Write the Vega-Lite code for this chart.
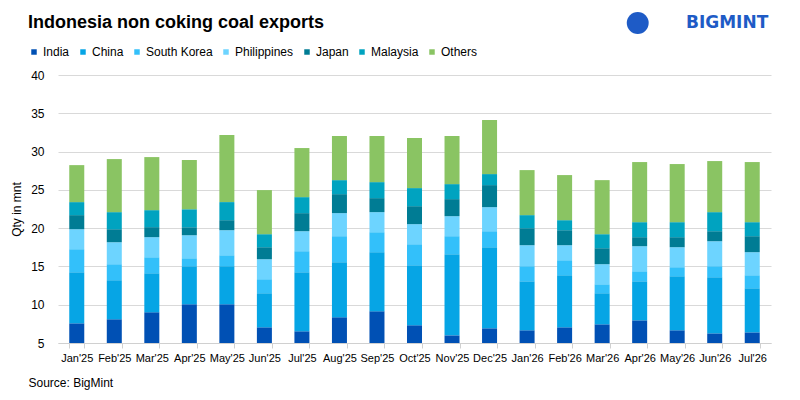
{
"$schema": "https://vega.github.io/schema/vega-lite/v6.json",
"width": 713,
"height": 268,
"autosize": {"type": "none"},
"padding": {"left": 58, "top": 75, "right": 29, "bottom": 57},
"background": "white",
"config": {"font": "Liberation Sans", "view": {"stroke": null}},
"title": {"text": "Indonesia non coking coal exports", "anchor": "start", "frame": "group", "dx": -30, "dy": 30, "offset": 10, "fontSize": 18, "fontWeight": "bold", "color": "#000000"},
"resolve": {"axis": {"x": "independent", "y": "independent"}},
"datasets": {
"exports": [
{"month":"Jan'25","country":"India","qty":7.57},{"month":"Jan'25","country":"China","qty":6.67},{"month":"Jan'25","country":"South Korea","qty":3.01},{"month":"Jan'25","country":"Philippines","qty":2.61},{"month":"Jan'25","country":"Japan","qty":1.84},{"month":"Jan'25","country":"Malaysia","qty":1.70},{"month":"Jan'25","country":"Others","qty":4.83},
{"month":"Feb'25","country":"India","qty":8.10},{"month":"Feb'25","country":"China","qty":5.10},{"month":"Feb'25","country":"South Korea","qty":2.09},{"month":"Feb'25","country":"Philippines","qty":2.87},{"month":"Feb'25","country":"Japan","qty":1.70},{"month":"Feb'25","country":"Malaysia","qty":2.23},{"month":"Feb'25","country":"Others","qty":6.93},
{"month":"Mar'25","country":"India","qty":9.01},{"month":"Mar'25","country":"China","qty":5.10},{"month":"Mar'25","country":"South Korea","qty":2.09},{"month":"Mar'25","country":"Philippines","qty":2.62},{"month":"Mar'25","country":"Japan","qty":1.31},{"month":"Mar'25","country":"Malaysia","qty":2.22},{"month":"Mar'25","country":"Others","qty":6.93},
{"month":"Apr'25","country":"India","qty":10.06},{"month":"Apr'25","country":"China","qty":4.97},{"month":"Apr'25","country":"South Korea","qty":1.04},{"month":"Apr'25","country":"Philippines","qty":3.01},{"month":"Apr'25","country":"Japan","qty":1.05},{"month":"Apr'25","country":"Malaysia","qty":2.35},{"month":"Apr'25","country":"Others","qty":6.41},
{"month":"May'25","country":"India","qty":10.06},{"month":"May'25","country":"China","qty":4.97},{"month":"May'25","country":"South Korea","qty":1.43},{"month":"May'25","country":"Philippines","qty":3.27},{"month":"May'25","country":"Japan","qty":1.31},{"month":"May'25","country":"Malaysia","qty":2.36},{"month":"May'25","country":"Others","qty":8.76},
{"month":"Jun'25","country":"India","qty":7.05},{"month":"Jun'25","country":"China","qty":4.45},{"month":"Jun'25","country":"South Korea","qty":1.83},{"month":"Jun'25","country":"Philippines","qty":2.61},{"month":"Jun'25","country":"Japan","qty":1.57},{"month":"Jun'25","country":"Malaysia","qty":1.70},{"month":"Jun'25","country":"Others","qty":5.76},
{"month":"Jul'25","country":"India","qty":6.53},{"month":"Jul'25","country":"China","qty":7.71},{"month":"Jul'25","country":"South Korea","qty":2.75},{"month":"Jul'25","country":"Philippines","qty":2.61},{"month":"Jul'25","country":"Japan","qty":2.36},{"month":"Jul'25","country":"Malaysia","qty":2.09},{"month":"Jul'25","country":"Others","qty":6.41},
{"month":"Aug'25","country":"India","qty":8.36},{"month":"Aug'25","country":"China","qty":7.19},{"month":"Aug'25","country":"South Korea","qty":3.40},{"month":"Aug'25","country":"Philippines","qty":3.01},{"month":"Aug'25","country":"Japan","qty":2.48},{"month":"Aug'25","country":"Malaysia","qty":1.83},{"month":"Aug'25","country":"Others","qty":5.76},
{"month":"Sep'25","country":"India","qty":9.14},{"month":"Sep'25","country":"China","qty":7.72},{"month":"Sep'25","country":"South Korea","qty":2.61},{"month":"Sep'25","country":"Philippines","qty":2.62},{"month":"Sep'25","country":"Japan","qty":1.83},{"month":"Sep'25","country":"Malaysia","qty":2.09},{"month":"Sep'25","country":"Others","qty":6.02},
{"month":"Oct'25","country":"India","qty":7.31},{"month":"Oct'25","country":"China","qty":7.85},{"month":"Oct'25","country":"South Korea","qty":2.74},{"month":"Oct'25","country":"Philippines","qty":2.62},{"month":"Oct'25","country":"Japan","qty":2.35},{"month":"Oct'25","country":"Malaysia","qty":2.36},{"month":"Oct'25","country":"Others","qty":6.54},
{"month":"Nov'25","country":"India","qty":6.00},{"month":"Nov'25","country":"China","qty":10.60},{"month":"Nov'25","country":"South Korea","qty":2.35},{"month":"Nov'25","country":"Philippines","qty":2.61},{"month":"Nov'25","country":"Japan","qty":2.23},{"month":"Nov'25","country":"Malaysia","qty":1.96},{"month":"Nov'25","country":"Others","qty":6.28},
{"month":"Dec'25","country":"India","qty":6.92},{"month":"Dec'25","country":"China","qty":10.59},{"month":"Dec'25","country":"South Korea","qty":2.09},{"month":"Dec'25","country":"Philippines","qty":3.14},{"month":"Dec'25","country":"Japan","qty":2.88},{"month":"Dec'25","country":"Malaysia","qty":1.44},{"month":"Dec'25","country":"Others","qty":7.06},
{"month":"Jan'26","country":"India","qty":6.66},{"month":"Jan'26","country":"China","qty":6.40},{"month":"Jan'26","country":"South Korea","qty":1.97},{"month":"Jan'26","country":"Philippines","qty":2.74},{"month":"Jan'26","country":"Japan","qty":2.22},{"month":"Jan'26","country":"Malaysia","qty":1.71},{"month":"Jan'26","country":"Others","qty":5.88},
{"month":"Feb'26","country":"India","qty":7.05},{"month":"Feb'26","country":"China","qty":6.80},{"month":"Feb'26","country":"South Korea","qty":1.96},{"month":"Feb'26","country":"Philippines","qty":1.96},{"month":"Feb'26","country":"Japan","qty":1.96},{"month":"Feb'26","country":"Malaysia","qty":1.31},{"month":"Feb'26","country":"Others","qty":5.89},
{"month":"Mar'26","country":"India","qty":7.44},{"month":"Mar'26","country":"China","qty":4.06},{"month":"Mar'26","country":"South Korea","qty":1.17},{"month":"Mar'26","country":"Philippines","qty":2.62},{"month":"Mar'26","country":"Japan","qty":2.09},{"month":"Mar'26","country":"Malaysia","qty":1.83},{"month":"Mar'26","country":"Others","qty":7.06},
{"month":"Apr'26","country":"India","qty":7.96},{"month":"Apr'26","country":"China","qty":5.10},{"month":"Apr'26","country":"South Korea","qty":1.31},{"month":"Apr'26","country":"Philippines","qty":3.27},{"month":"Apr'26","country":"Japan","qty":1.18},{"month":"Apr'26","country":"Malaysia","qty":1.96},{"month":"Apr'26","country":"Others","qty":7.85},
{"month":"May'26","country":"India","qty":6.66},{"month":"May'26","country":"China","qty":7.06},{"month":"May'26","country":"South Korea","qty":1.18},{"month":"May'26","country":"Philippines","qty":2.61},{"month":"May'26","country":"Japan","qty":1.31},{"month":"May'26","country":"Malaysia","qty":1.96},{"month":"May'26","country":"Others","qty":7.59},
{"month":"Jun'26","country":"India","qty":6.26},{"month":"Jun'26","country":"China","qty":7.33},{"month":"Jun'26","country":"South Korea","qty":1.44},{"month":"Jun'26","country":"Philippines","qty":3.26},{"month":"Jun'26","country":"Japan","qty":1.31},{"month":"Jun'26","country":"Malaysia","qty":2.49},{"month":"Jun'26","country":"Others","qty":6.67},
{"month":"Jul'26","country":"India","qty":6.39},{"month":"Jul'26","country":"China","qty":5.76},{"month":"Jul'26","country":"South Korea","qty":1.70},{"month":"Jul'26","country":"Philippines","qty":3.01},{"month":"Jul'26","country":"Japan","qty":2.09},{"month":"Jul'26","country":"Malaysia","qty":1.83},{"month":"Jul'26","country":"Others","qty":7.85}
],
"brand": [{"name": "BIGMINT"}]
},
"layer": [
{
"data": {"name": "exports"},
"transform": [{"calculate": "indexof(['India','China','South Korea','Philippines','Japan','Malaysia','Others'], datum.country)", "as": "stackRank"}],
"mark": {"type": "bar", "clip": true},
"encoding": {
"x": {"field": "month", "type": "nominal", "sort": null,
"scale": {"paddingInner": 0.6, "paddingOuter": 0.3},
"axis": {"labelAngle": 0, "labelFontSize": 11, "labelColor": "#000000", "labelPadding": 4, "tickBand": "extent", "tickSize": 5, "tickColor": "#d0d0d0", "domainColor": "#d0d0d0", "grid": false,
"title": "Source: BigMint", "titleAnchor": "start", "titleAlign": "left", "titleX": -30, "titleY": 34, "titleFontSize": 12, "titleFontWeight": "normal", "titleColor": "#000000"}},
"y": {"field": "qty", "type": "quantitative", "stack": "zero",
"scale": {"domain": [5, 40], "nice": false, "zero": false},
"axis": {"values": [5, 10, 15, 20, 25, 30, 35, 40], "labelOverlap": false, "ticks": false, "domain": false, "labelFontSize": 12, "labelColor": "#000000", "labelPadding": 14, "gridColor": "#d9d9d9", "title": "Qty in mnt", "titleFontSize": 12, "titleFontWeight": "normal", "titleColor": "#000000", "titlePadding": 7}},
"order": {"field": "stackRank", "type": "quantitative", "sort": "ascending"},
"color": {"field": "country", "type": "nominal",
"sort": ["India", "China", "South Korea", "Philippines", "Japan", "Malaysia", "Others"],
"scale": {"domain": ["India", "China", "South Korea", "Philippines", "Japan", "Malaysia", "Others"], "range": ["#0050B4", "#06A5E5", "#33C0FA", "#6DD4FF", "#007C94", "#00A3C0", "#8AC463"]},
"legend": {"orient": "none", "legendX": -30, "legendY": -29, "direction": "horizontal", "title": null, "symbolType": "square", "symbolSize": 30, "symbolStrokeWidth": 0, "labelFontSize": 12, "labelColor": "#000000", "labelOffset": 3, "columnPadding": 7}}
}
},
{
"data": {"name": "brand"},
"mark": {"type": "text", "font": "DejaVu Sans", "fontSize": 17, "fontWeight": "bold", "color": "#1E5BC6", "align": "right", "baseline": "middle", "dx": 16, "clip": false},
"encoding": {
"x": {"datum": "Jul'26", "type": "nominal", "axis": null},
"y": {"datum": 46.8, "type": "quantitative", "axis": null},
"text": {"field": "name"}
}
},
{
"data": {"name": "brand"},
"mark": {"type": "point", "shape": "circle", "filled": true, "size": 480, "color": "#1E5BC6", "opacity": 1, "clip": false},
"encoding": {
"x": {"datum": "Jul'26", "type": "nominal", "axis": null},
"y": {"datum": 46.8, "type": "quantitative", "axis": null},
"xOffset": {"value": -107}
}
}
]
}
